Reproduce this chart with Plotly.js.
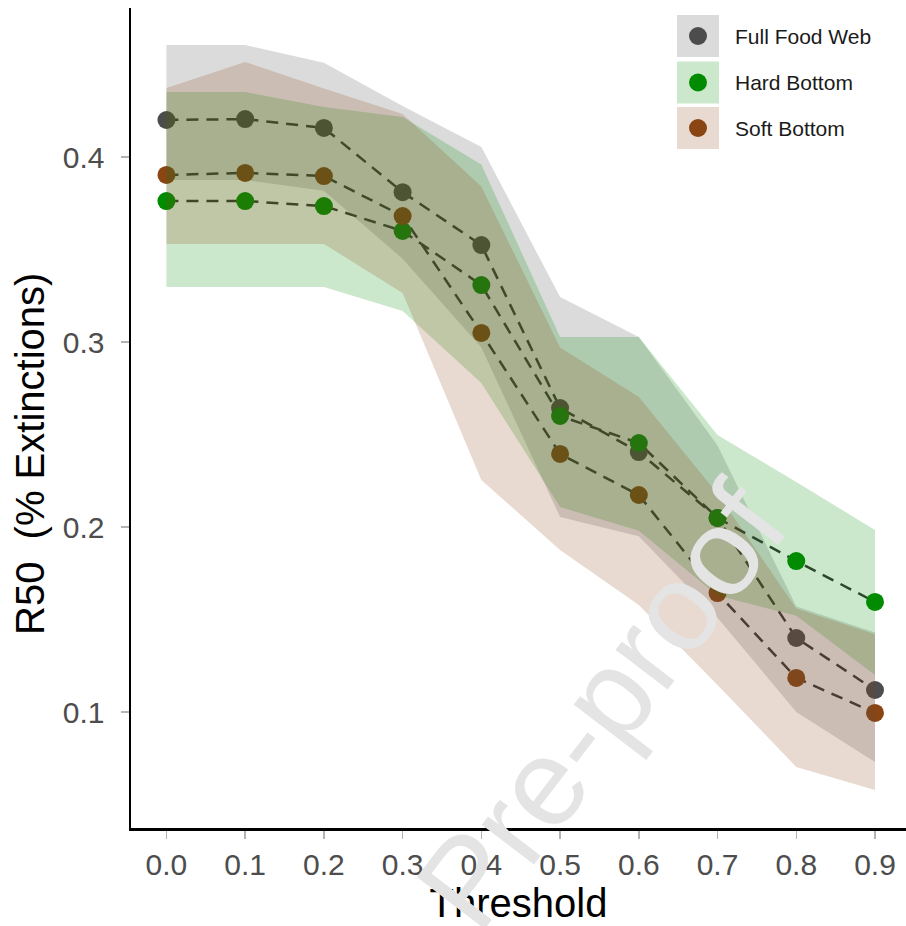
<!DOCTYPE html>
<html>
<head>
<meta charset="utf-8">
<script src="https://cdn.plot.ly/plotly-3.0.1.min.js"></script>
<style>html,body{margin:0;padding:0;background:#fff}#chart{width:906px;height:926px}</style>
</head>
<body>
<div id="chart"></div>
<script>
// ---- data ----
const thresholds = [0.0, 0.1, 0.2, 0.3, 0.4, 0.5, 0.6, 0.7, 0.8, 0.9];
const tickLabels = ['0.0','0.1','0.2','0.3','0.4','0.5','0.6','0.7','0.8','0.9'];
const yTicks = [0.1, 0.2, 0.3, 0.4];
const seriesNames = ['Full Food Web', 'Hard Bottom', 'Soft Bottom'];

const fullMean  = [0.420, 0.4205, 0.4157, 0.381, 0.3524, 0.2643, 0.2405, 0.2049, 0.140, 0.1119];
const fullUpper = [0.4605, 0.4605, 0.451, 0.4276, 0.4054, 0.3243, 0.3027, 0.244, 0.157, 0.143];
const fullLower = [0.3876, 0.3876, 0.3818, 0.345, 0.297, 0.2054, 0.195, 0.151, 0.100, 0.073];

const hardMean  = [0.3762, 0.3762, 0.3735, 0.360, 0.3308, 0.260, 0.2454, 0.2049, 0.1816, 0.1595];
const hardUpper = [0.4351, 0.4351, 0.427, 0.4216, 0.396, 0.3027, 0.3027, 0.2497, 0.2243, 0.1984];
const hardLower = [0.3297, 0.3297, 0.3297, 0.3168, 0.2778, 0.2108, 0.198, 0.163, 0.152, 0.120];

const softMean  = [0.3903, 0.3914, 0.3897, 0.3681, 0.3049, 0.2395, 0.2173, 0.1643, 0.1184, 0.0995];
const softUpper = [0.4373, 0.4514, 0.437, 0.4232, 0.384, 0.297, 0.2703, 0.218, 0.156, 0.142];
const softLower = [0.353, 0.353, 0.353, 0.3265, 0.2254, 0.1876, 0.1578, 0.1146, 0.0703, 0.0578];

const xTitle = 'Threshold';
const yTitle = 'R50\u00a0 (% Extinctions)';
const watermark = 'Pre-proof';

// ---- styling ----
const pointColors = ['#4d4d4d', '#008b00', '#8b4513'];
const fillColors  = ['rgba(77,77,77,0.2)', 'rgba(0,139,0,0.2)', 'rgba(139,69,19,0.2)'];
const means = [fullMean, hardMean, softMean];
const uppers = [fullUpper, hardUpper, softUpper];
const lowers = [fullLower, hardLower, softLower];

const W = 906, H = 926;
const M = {l: 131, r: 0, t: 8, b: 98};
const pw = W - M.l - M.r, ph = H - M.t - M.b;
const px2x = p => (p - M.l) / pw;
const py2y = p => (H - M.b - p) / ph;

const traces = [];
// dashed lines (drawn first, under ribbons)
for (let i = 0; i < 3; i++) {
  traces.push({
    type: 'scatter', mode: 'lines', x: thresholds, y: means[i],
    line: {color: '#363636', width: 2.5, dash: '12px,8px'},
    hoverinfo: 'skip', showlegend: false
  });
}
// points
for (let i = 0; i < 3; i++) {
  traces.push({
    type: 'scatter', mode: 'markers', x: thresholds, y: means[i], name: seriesNames[i],
    marker: {color: pointColors[i], size: 18, line: {width: 0}},
    showlegend: false
  });
}
// ribbons on top
for (let i = 0; i < 3; i++) {
  traces.push({
    type: 'scatter', mode: 'lines',
    x: thresholds.concat(thresholds.slice().reverse()),
    y: uppers[i].concat(lowers[i].slice().reverse()),
    fill: 'toself', fillcolor: fillColors[i], line: {width: 0, color: 'rgba(0,0,0,0)'},
    hoverinfo: 'skip', showlegend: false
  });
}

// manual legend
const shapes = [], annotations = [];
const legendRows = [36, 82.5, 128];
for (let i = 0; i < 3; i++) {
  const yc = legendRows[i];
  shapes.push({type: 'circle', xref: 'paper', yref: 'paper',
    x0: px2x(698 - 9), x1: px2x(698 + 9), y0: py2y(yc + 9), y1: py2y(yc - 9),
    fillcolor: pointColors[i], line: {width: 0}, layer: 'above'});
  shapes.push({type: 'rect', xref: 'paper', yref: 'paper',
    x0: px2x(677), x1: px2x(719), y0: py2y(yc + 21), y1: py2y(yc - 21),
    fillcolor: fillColors[i], line: {width: 0}, layer: 'above'});
  annotations.push({xref: 'paper', yref: 'paper', x: px2x(733), y: py2y(yc),
    xanchor: 'left', yanchor: 'middle', showarrow: false, text: seriesNames[i],
    font: {family: 'Liberation Sans, Arial, sans-serif', size: 21, color: '#1a1a1a'}});
}
// y title
annotations.push({xref: 'paper', yref: 'paper', x: px2x(30), y: py2y(454),
  xanchor: 'center', yanchor: 'middle', showarrow: false, textangle: -90, text: yTitle,
  font: {family: 'Liberation Sans, Arial, sans-serif', size: 40, color: '#000'}});
// watermark
annotations.push({xref: 'paper', yref: 'paper', x: px2x(601), y: py2y(706),
  xanchor: 'center', yanchor: 'middle', showarrow: false, textangle: -52.6, text: watermark,
  font: {family: 'Liberation Sans, Arial, sans-serif', size: 124, color: '#e4e4e4'}});

const layout = {
  width: W, height: H, margin: M,
  paper_bgcolor: '#fff', plot_bgcolor: '#fff', showlegend: false,
  xaxis: {
    range: [-0.045, 0.9 + (W - M.r - 875) / 787.4], tickvals: thresholds, ticktext: tickLabels,
    showgrid: false, zeroline: false, showline: true, linecolor: '#000', linewidth: 2.5,
    ticks: 'outside', ticklen: 8, tickwidth: 1.5, tickcolor: '#b3b3b3',
    tickfont: {family: 'Liberation Sans, Arial, sans-serif', size: 30, color: '#4d4d4d'},
    title: {text: xTitle, standoff: 6, font: {family: 'Liberation Sans, Arial, sans-serif', size: 40, color: '#000'}},
    automargin: false, fixedrange: true
  },
  yaxis: {
    range: [0.0373, 0.48054], tickvals: yTicks, tickformat: '.1f',
    showgrid: false, zeroline: false, showline: true, linecolor: '#000', linewidth: 2.5,
    ticks: 'outside', ticklen: 8, tickwidth: 1.5, tickcolor: '#b3b3b3',
    ticklabelstandoff: 10,
    tickfont: {family: 'Liberation Sans, Arial, sans-serif', size: 30, color: '#4d4d4d'},
    automargin: false, fixedrange: true
  },
  shapes: shapes,
  annotations: annotations
};

Plotly.newPlot('chart', traces, layout, {displayModeBar: false, staticPlot: true});
</script>
</body>
</html>
